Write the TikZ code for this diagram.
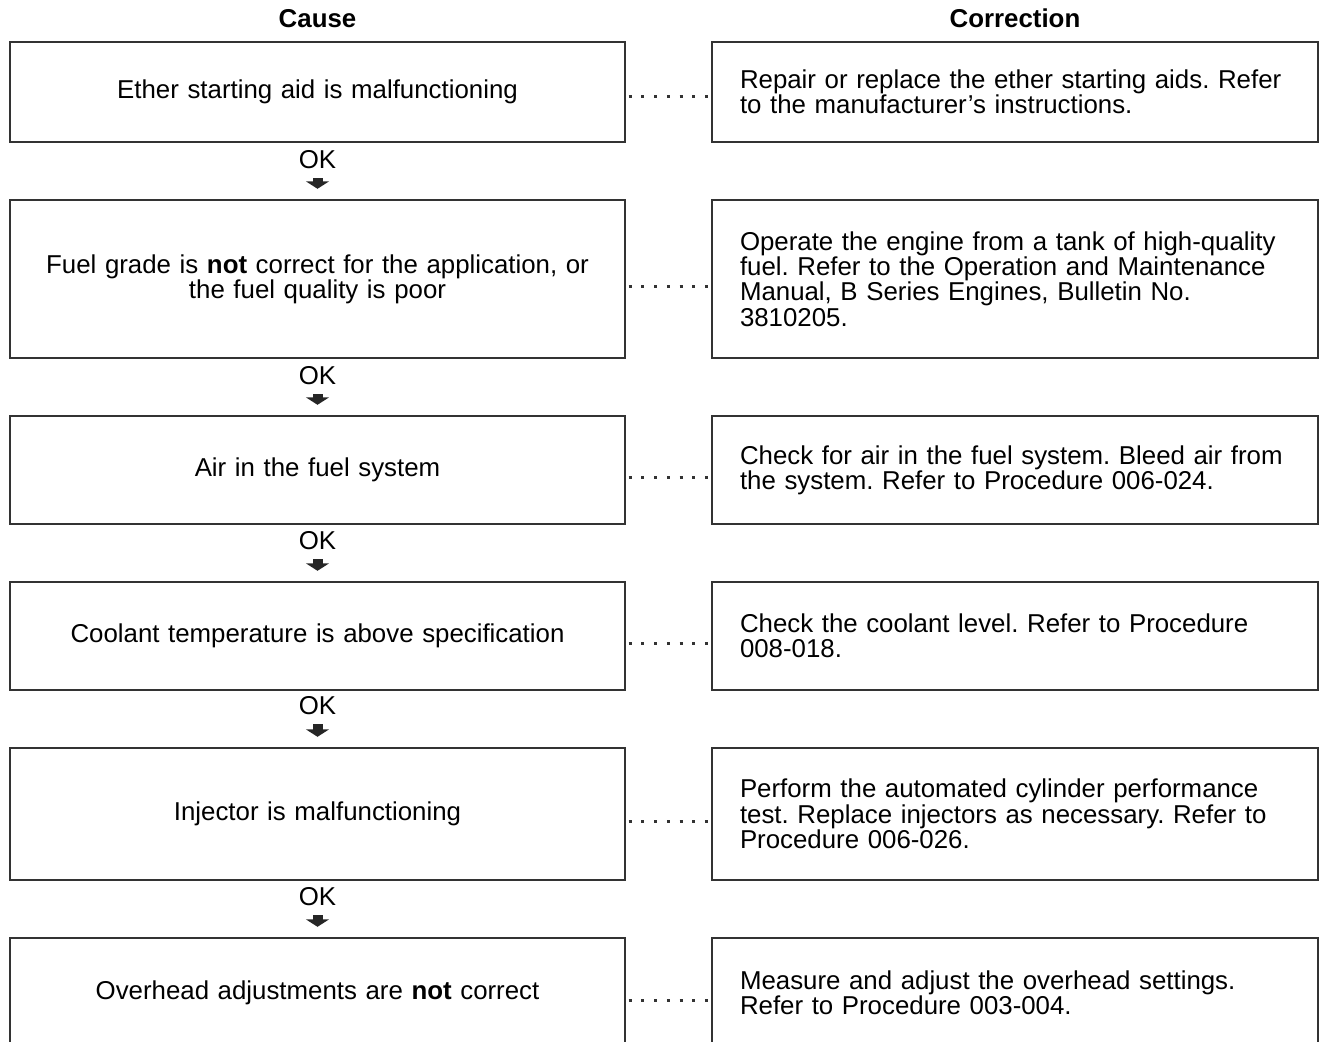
\documentclass[tikz,border=0pt]{standalone}
\usepackage{fontspec}
\setmainfont{Liberation Sans}
\usepackage{tikz}
\usetikzlibrary{arrows.meta}
\frenchspacing
\hyphenpenalty=10000
\tikzset{
  causebox/.style={
    draw=black!80, line width=0.8pt, align=center,
    minimum width=12.3cm, text width=11.8cm, inner sep=0pt,
    font=\fontsize{14.7}{14.4}\selectfont
  },
  fixbox/.style={
    draw=black!80, line width=0.8pt, align=left,
    minimum width=12.12cm, text width=11cm,
    inner xsep=0.56cm, inner ysep=0pt,
    font=\fontsize{14.7}{14.4}\selectfont
  },
  headlabel/.style={
    font=\fontsize{14.7}{14.4}\selectfont\bfseries
  },
  oklabel/.style={
    font=\fontsize{14.7}{14.4}\selectfont, inner sep=0pt
  },
  okarrow/.style={
    -{Triangle[width=0.46cm, length=0.15cm]}, line width=0.2cm, black!85,
    shorten <=0.36cm, shorten >=0.21cm
  },
  dotlink/.style={
    line width=0.06cm, black!80, dash pattern=on 0.06cm off 0.194cm,
    shorten <=0.06cm
  },
}

\begin{document}
\begin{tikzpicture}
  \clip (0,0) rectangle (26.38,-20.84);

  % --- Column headers ---
  \node[headlabel] (cause) at (6.35, -0.37) {Cause};
  \node[headlabel] (correction) at (20.3, -0.37) {Correction};

  % --- Cause column ---
  \node[causebox, minimum height=2cm] (ether) at (6.35, -1.84)
    {Ether starting aid is malfunctioning};
  \node[causebox, minimum height=3.16cm] (fuel) at (6.35, -5.58)
    {Fuel grade is \textbf{not} correct for the application, or\\the fuel quality is poor};
  \node[causebox, minimum height=2.16cm] (air) at (6.35, -9.40)
    {Air in the fuel system};
  \node[causebox, minimum height=2.16cm] (coolant) at (6.35, -12.72)
    {Coolant temperature is above specification};
  \node[causebox, minimum height=2.64cm] (injector) at (6.35, -16.28)
    {Injector is malfunctioning};
  \node[causebox, minimum height=2.2cm] (overhead) at (6.35, -19.86)
    {Overhead adjustments are \textbf{not} correct};

  % --- Correction column ---
  \node[fixbox, minimum height=2cm] (etherfix) at (20.3, -1.84)
    {Repair or replace the ether starting aids. Refer\\to the manufacturer's instructions.};
  \node[fixbox, minimum height=3.16cm] (fuelfix) at (20.3, -5.58)
    {Operate the engine from a tank of high-quality\\fuel. Refer to the Operation and Maintenance\\Manual, B Series Engines, Bulletin No.\\3810205.};
  \node[fixbox, minimum height=2.16cm] (airfix) at (20.3, -9.40)
    {Check for air in the fuel system. Bleed air from\\the system. Refer to Procedure 006-024.};
  \node[fixbox, minimum height=2.16cm] (coolantfix) at (20.3, -12.72)
    {Check the coolant level. Refer to Procedure\\008-018.};
  \node[fixbox, minimum height=2.64cm] (injectorfix) at (20.3, -16.28)
    {Perform the automated cylinder performance\\test. Replace injectors as necessary. Refer to\\Procedure 006-026.};
  \node[fixbox, minimum height=2.2cm] (overheadfix) at (20.3, -19.86)
    {Measure and adjust the overhead settings.\\Refer to Procedure 003-004.};

  % --- OK steps ---
  \node[oklabel] (ok1) at (6.35, -3.2) {OK};
  \node[oklabel] (ok2) at (6.35, -7.52) {OK};
  \node[oklabel] (ok3) at (6.35, -10.82) {OK};
  \node[oklabel] (ok4) at (6.35, -14.12) {OK};
  \node[oklabel] (ok5) at (6.35, -17.94) {OK};

  \draw[okarrow] (ok1.center) -- (fuel.north);
  \draw[okarrow] (ok2.center) -- (air.north);
  \draw[okarrow] (ok3.center) -- (coolant.north);
  \draw[okarrow] (ok4.center) -- (injector.north);
  \draw[okarrow] (ok5.center) -- (overhead.north);

  % --- Dotted links ---
  \draw[dotlink] ([yshift=-0.08cm]ether.east) -- ([yshift=-0.08cm]etherfix.west);
  \draw[dotlink] ([yshift=-0.14cm]fuel.east) -- ([yshift=-0.14cm]fuelfix.west);
  \draw[dotlink] ([yshift=-0.14cm]air.east) -- ([yshift=-0.14cm]airfix.west);
  \draw[dotlink] ([yshift=-0.14cm]coolant.east) -- ([yshift=-0.14cm]coolantfix.west);
  \draw[dotlink] ([yshift=-0.14cm]injector.east) -- ([yshift=-0.14cm]injectorfix.west);
  \draw[dotlink] ([yshift=-0.14cm]overhead.east) -- ([yshift=-0.14cm]overheadfix.west);

\end{tikzpicture}
\end{document}
